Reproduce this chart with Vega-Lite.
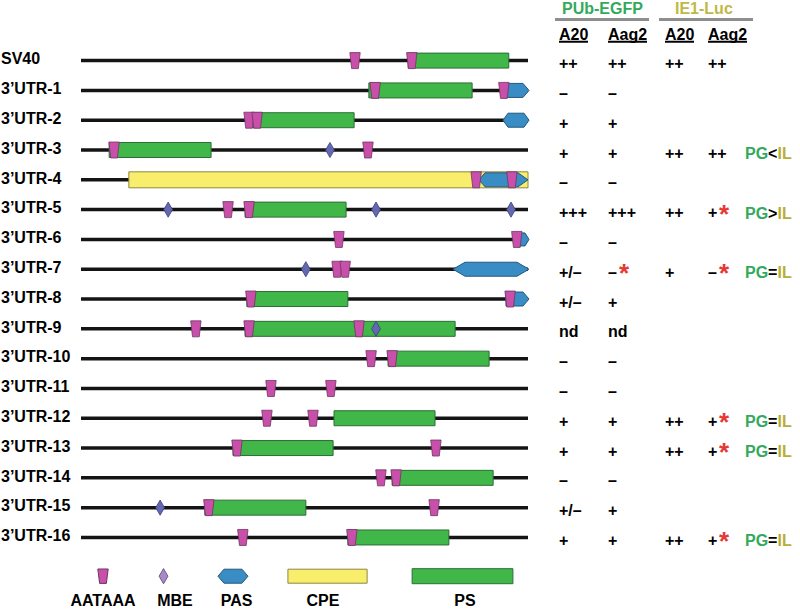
{
  "$schema": "https://vega.github.io/schema/vega-lite/v6.json",
  "width": 800,
  "height": 609,
  "autosize": {"type": "fit", "contains": "padding"},
  "padding": 0,
  "background": "white",
  "config": {"view": {"stroke": null}, "text": {"font": "Liberation Sans", "fontWeight": "bold", "fontSize": 16, "color": "#000000"}},
  "datasets": {
    "constructs": [
      {"name": "SV40", "row": 0}, {"name": "3’UTR-1", "row": 1}, {"name": "3’UTR-2", "row": 2},
      {"name": "3’UTR-3", "row": 3}, {"name": "3’UTR-4", "row": 4}, {"name": "3’UTR-5", "row": 5},
      {"name": "3’UTR-6", "row": 6}, {"name": "3’UTR-7", "row": 7}, {"name": "3’UTR-8", "row": 8},
      {"name": "3’UTR-9", "row": 9}, {"name": "3’UTR-10", "row": 10}, {"name": "3’UTR-11", "row": 11},
      {"name": "3’UTR-12", "row": 12}, {"name": "3’UTR-13", "row": 13}, {"name": "3’UTR-14", "row": 14},
      {"name": "3’UTR-15", "row": 15}, {"name": "3’UTR-16", "row": 16}
    ],
    "elements": [
      {"row": 0, "type": "PS", "start": 73.2, "end": 95.7},
      {"row": 1, "type": "PS", "start": 64.4, "end": 87.5},
      {"row": 2, "type": "PS", "start": 38.5, "end": 61.1},
      {"row": 3, "type": "PS", "start": 6.3, "end": 29.1},
      {"row": 4, "type": "CPE", "start": 10.7, "end": 100},
      {"row": 5, "type": "PS", "start": 36.7, "end": 59.3},
      {"row": 8, "type": "PS", "start": 37.1, "end": 59.7},
      {"row": 9, "type": "PS", "start": 36.7, "end": 83.7},
      {"row": 10, "type": "PS", "start": 68.7, "end": 91.3},
      {"row": 12, "type": "PS", "start": 56.6, "end": 79.2},
      {"row": 13, "type": "PS", "start": 34.0, "end": 56.4},
      {"row": 14, "type": "PS", "start": 69.6, "end": 92.2},
      {"row": 15, "type": "PS", "start": 27.7, "end": 50.3},
      {"row": 16, "type": "PS", "start": 59.7, "end": 82.3}
    ],
    "pas": [
      {"row": 1, "pos": 97.65, "form": "pentagon"},
      {"row": 2, "pos": 97.32, "form": "hexagon"},
      {"row": 4, "pos": 94.52, "form": "hexagon-wide"},
      {"row": 6, "pos": 98.66, "form": "pentagon-small"},
      {"row": 7, "pos": 91.72, "form": "hexagon-long"},
      {"row": 8, "pos": 97.65, "form": "pentagon"}
    ],
    "aataaa": [
      {"row": 0, "pos": 61.3}, {"row": 0, "pos": 74.0},
      {"row": 1, "pos": 65.8}, {"row": 1, "pos": 94.6},
      {"row": 2, "pos": 37.6}, {"row": 2, "pos": 39.4},
      {"row": 3, "pos": 7.4}, {"row": 3, "pos": 64.2},
      {"row": 4, "pos": 88.4}, {"row": 4, "pos": 96.4},
      {"row": 5, "pos": 32.9}, {"row": 5, "pos": 37.6},
      {"row": 6, "pos": 57.7}, {"row": 6, "pos": 97.5},
      {"row": 7, "pos": 57.3}, {"row": 7, "pos": 59.1},
      {"row": 8, "pos": 38.0}, {"row": 8, "pos": 96.0},
      {"row": 9, "pos": 25.7}, {"row": 9, "pos": 37.6}, {"row": 9, "pos": 62.2},
      {"row": 10, "pos": 64.9}, {"row": 10, "pos": 69.6},
      {"row": 11, "pos": 42.5}, {"row": 11, "pos": 55.9},
      {"row": 12, "pos": 41.6}, {"row": 12, "pos": 51.9},
      {"row": 13, "pos": 34.9}, {"row": 13, "pos": 79.4},
      {"row": 14, "pos": 67.1}, {"row": 14, "pos": 70.5},
      {"row": 15, "pos": 28.6}, {"row": 15, "pos": 79.0},
      {"row": 16, "pos": 36.2}, {"row": 16, "pos": 60.6}
    ],
    "mbe": [
      {"row": 3, "pos": 55.7},
      {"row": 5, "pos": 19.5}, {"row": 5, "pos": 66.0}, {"row": 5, "pos": 96.2},
      {"row": 7, "pos": 50.3},
      {"row": 9, "pos": 66.0},
      {"row": 15, "pos": 17.7}
    ],
    "legend": [
      {"feature": "AATAAA", "pos": 4.92, "labelPos": 4.92},
      {"feature": "MBE", "pos": 18.46, "labelPos": 21.03},
      {"feature": "PAS", "pos": 34.0, "labelPos": 34.8},
      {"feature": "CPE", "pos": 55.15, "labelPos": 54.14},
      {"feature": "PS", "pos": 85.35, "labelPos": 85.91}
    ],
    "reporters": [{"reporter": "PUb-EGFP"}, {"reporter": "IE1-Luc"}],
    "cells": [{"cell": "A20"}, {"cell": "Aag2"}],
    "results": [
      {"row": 0, "reporter": "PUb-EGFP", "cell": "A20", "value": "++"},
      {"row": 0, "reporter": "PUb-EGFP", "cell": "Aag2", "value": "++"},
      {"row": 0, "reporter": "IE1-Luc", "cell": "A20", "value": "++"},
      {"row": 0, "reporter": "IE1-Luc", "cell": "Aag2", "value": "++"},
      {"row": 1, "reporter": "PUb-EGFP", "cell": "A20", "value": "–"},
      {"row": 1, "reporter": "PUb-EGFP", "cell": "Aag2", "value": "–"},
      {"row": 2, "reporter": "PUb-EGFP", "cell": "A20", "value": "+"},
      {"row": 2, "reporter": "PUb-EGFP", "cell": "Aag2", "value": "+"},
      {"row": 3, "reporter": "PUb-EGFP", "cell": "A20", "value": "+"},
      {"row": 3, "reporter": "PUb-EGFP", "cell": "Aag2", "value": "+"},
      {"row": 3, "reporter": "IE1-Luc", "cell": "A20", "value": "++"},
      {"row": 3, "reporter": "IE1-Luc", "cell": "Aag2", "value": "++"},
      {"row": 4, "reporter": "PUb-EGFP", "cell": "A20", "value": "–"},
      {"row": 4, "reporter": "PUb-EGFP", "cell": "Aag2", "value": "–"},
      {"row": 5, "reporter": "PUb-EGFP", "cell": "A20", "value": "+++"},
      {"row": 5, "reporter": "PUb-EGFP", "cell": "Aag2", "value": "+++"},
      {"row": 5, "reporter": "IE1-Luc", "cell": "A20", "value": "++"},
      {"row": 5, "reporter": "IE1-Luc", "cell": "Aag2", "value": "+", "sig": "*"},
      {"row": 6, "reporter": "PUb-EGFP", "cell": "A20", "value": "–"},
      {"row": 6, "reporter": "PUb-EGFP", "cell": "Aag2", "value": "–"},
      {"row": 7, "reporter": "PUb-EGFP", "cell": "A20", "value": "+/–"},
      {"row": 7, "reporter": "PUb-EGFP", "cell": "Aag2", "value": "–", "sig": "*"},
      {"row": 7, "reporter": "IE1-Luc", "cell": "A20", "value": "+"},
      {"row": 7, "reporter": "IE1-Luc", "cell": "Aag2", "value": "–", "sig": "*"},
      {"row": 8, "reporter": "PUb-EGFP", "cell": "A20", "value": "+/–"},
      {"row": 8, "reporter": "PUb-EGFP", "cell": "Aag2", "value": "+"},
      {"row": 9, "reporter": "PUb-EGFP", "cell": "A20", "value": "nd"},
      {"row": 9, "reporter": "PUb-EGFP", "cell": "Aag2", "value": "nd"},
      {"row": 10, "reporter": "PUb-EGFP", "cell": "A20", "value": "–"},
      {"row": 10, "reporter": "PUb-EGFP", "cell": "Aag2", "value": "–"},
      {"row": 11, "reporter": "PUb-EGFP", "cell": "A20", "value": "–"},
      {"row": 11, "reporter": "PUb-EGFP", "cell": "Aag2", "value": "–"},
      {"row": 12, "reporter": "PUb-EGFP", "cell": "A20", "value": "+"},
      {"row": 12, "reporter": "PUb-EGFP", "cell": "Aag2", "value": "+"},
      {"row": 12, "reporter": "IE1-Luc", "cell": "A20", "value": "++"},
      {"row": 12, "reporter": "IE1-Luc", "cell": "Aag2", "value": "+", "sig": "*"},
      {"row": 13, "reporter": "PUb-EGFP", "cell": "A20", "value": "+"},
      {"row": 13, "reporter": "PUb-EGFP", "cell": "Aag2", "value": "+"},
      {"row": 13, "reporter": "IE1-Luc", "cell": "A20", "value": "++"},
      {"row": 13, "reporter": "IE1-Luc", "cell": "Aag2", "value": "+", "sig": "*"},
      {"row": 14, "reporter": "PUb-EGFP", "cell": "A20", "value": "–"},
      {"row": 14, "reporter": "PUb-EGFP", "cell": "Aag2", "value": "–"},
      {"row": 15, "reporter": "PUb-EGFP", "cell": "A20", "value": "+/–"},
      {"row": 15, "reporter": "PUb-EGFP", "cell": "Aag2", "value": "+"},
      {"row": 16, "reporter": "PUb-EGFP", "cell": "A20", "value": "+"},
      {"row": 16, "reporter": "PUb-EGFP", "cell": "Aag2", "value": "+"},
      {"row": 16, "reporter": "IE1-Luc", "cell": "A20", "value": "++"},
      {"row": 16, "reporter": "IE1-Luc", "cell": "Aag2", "value": "+", "sig": "*"}
    ],
    "comparisons": [
      {"row": 3, "left": "PG", "rel": "<", "right": "IL"},
      {"row": 5, "left": "PG", "rel": ">", "right": "IL"},
      {"row": 7, "left": "PG", "rel": "=", "right": "IL"},
      {"row": 12, "left": "PG", "rel": "=", "right": "IL"},
      {"row": 13, "left": "PG", "rel": "=", "right": "IL"},
      {"row": 16, "left": "PG", "rel": "=", "right": "IL"}
    ]
  },
  "resolve": {"scale": {"x": "independent", "shape": "independent", "fill": "independent", "stroke": "independent"}},
  "layer": [
    {
      "layer": [
        {
          "data": {"name": "constructs"},
          "mark": {"type": "rule", "strokeWidth": 3.5, "color": "#141414"},
          "encoding": {
            "x": {"datum": 0, "type": "quantitative", "scale": {"domain": [0, 100], "range": [81, 528], "nice": false, "zero": false}, "axis": null},
            "x2": {"datum": 100},
            "y": {"field": "row", "type": "quantitative", "scale": {"domain": [-2, 18.3], "reverse": true, "nice": false, "zero": false}, "axis": null}
          }
        },
        {
          "data": {"name": "constructs"},
          "mark": {"type": "text", "align": "left", "baseline": "middle", "dy": -1.3},
          "encoding": {
            "x": {"datum": -17.9, "type": "quantitative"},
            "y": {"field": "row", "type": "quantitative", "scale": {"domain": [-2, 18.3], "reverse": true, "nice": false, "zero": false}, "axis": null},
            "text": {"field": "name"}
          }
        },
        {
          "data": {"name": "elements"},
          "transform": [{"filter": "datum.type === 'CPE'"}],
          "mark": {"type": "rect", "fill": "#f8ee6c", "stroke": "#8e8646", "strokeWidth": 1, "yOffset": -8, "y2Offset": 8},
          "encoding": {
            "x": {"field": "start", "type": "quantitative"},
            "x2": {"field": "end"},
            "y": {"field": "row", "type": "quantitative", "scale": {"domain": [-2, 18.3], "reverse": true, "nice": false, "zero": false}, "axis": null},
            "y2": {"field": "row"}
          }
        },
        {
          "data": {"name": "elements"},
          "transform": [{"filter": "datum.type === 'PS'"}],
          "mark": {"type": "rect", "fill": "#41b649", "stroke": "#2c6e36", "strokeWidth": 1, "yOffset": -7.5, "y2Offset": 7.5},
          "encoding": {
            "x": {"field": "start", "type": "quantitative"},
            "x2": {"field": "end"},
            "y": {"field": "row", "type": "quantitative", "scale": {"domain": [-2, 18.3], "reverse": true, "nice": false, "zero": false}, "axis": null},
            "y2": {"field": "row"}
          }
        },
        {
          "data": {"name": "pas"},
          "mark": {"type": "point", "filled": true, "size": 256, "opacity": 1, "fill": "#3a8cc4", "stroke": "#24587e", "strokeWidth": 1},
          "encoding": {
            "x": {"field": "pos", "type": "quantitative"},
            "y": {"field": "row", "type": "quantitative", "scale": {"domain": [-2, 18.3], "reverse": true, "nice": false, "zero": false}, "axis": null},
            "shape": {
              "field": "form", "type": "nominal", "legend": null,
              "scale": {
                "domain": ["pentagon", "hexagon", "hexagon-wide", "pentagon-small", "hexagon-long"],
                "range": [
                  "M-1.44,-0.875L0.69,-0.875L1.44,0L0.69,0.875L-1.44,0.875Z",
                  "M-1.625,0L-1,-0.875L1,-0.875L1.625,0L1,0.875L-1,0.875Z",
                  "M-3.06,0L-2.31,-0.875L1.81,-0.875L3.06,0L1.81,0.875L-2.31,0.875Z",
                  "M-0.875,-0.8125L0.375,-0.8125L0.875,0L0.375,0.8125L-0.875,0.8125Z",
                  "M-4.75,0L-3.25,-0.875L3.25,-0.875L4.75,0L3.25,0.875L-3.25,0.875Z"
                ]
              }
            }
          }
        },
        {
          "data": {"name": "aataaa"},
          "mark": {"type": "point", "shape": "M-0.65,-1L0.65,-1L0.42,1L-0.42,1Z", "filled": true, "size": 256, "opacity": 1, "fill": "#c850aa", "stroke": "#6e3560", "strokeWidth": 0.8},
          "encoding": {
            "x": {"field": "pos", "type": "quantitative"},
            "y": {"field": "row", "type": "quantitative", "scale": {"domain": [-2, 18.3], "reverse": true, "nice": false, "zero": false}, "axis": null}
          }
        },
        {
          "data": {"name": "mbe"},
          "mark": {"type": "point", "shape": "M0,-0.95L0.55,0L0,0.95L-0.55,0Z", "filled": true, "size": 256, "opacity": 1, "fill": "#6468b0", "stroke": "#3c3f7a", "strokeWidth": 0.8},
          "encoding": {
            "x": {"field": "pos", "type": "quantitative"},
            "y": {"field": "row", "type": "quantitative", "scale": {"domain": [-2, 18.3], "reverse": true, "nice": false, "zero": false}, "axis": null}
          }
        }
      ]
    },
    {
      "data": {"name": "legend"},
      "layer": [
        {
          "mark": {"type": "point", "filled": true, "size": 256, "opacity": 1, "strokeWidth": 1},
          "encoding": {
            "x": {"field": "pos", "type": "quantitative", "scale": {"domain": [0, 100], "range": [81, 528], "nice": false, "zero": false}, "axis": null},
            "y": {"datum": 17.3, "type": "quantitative", "scale": {"domain": [-2, 18.3], "reverse": true, "nice": false, "zero": false}, "axis": null},
            "shape": {
              "field": "feature", "type": "nominal", "legend": null,
              "scale": {
                "domain": ["AATAAA", "MBE", "PAS", "CPE", "PS"],
                "range": [
                  "M-0.65,-0.9L0.65,-0.9L0.42,0.9L-0.42,0.9Z",
                  "M0,-0.95L0.55,0L0,0.95L-0.55,0Z",
                  "M-1.875,0L-1.125,-0.875L1.125,-0.875L1.875,0L1.125,0.875L-1.125,0.875Z",
                  "M-4.95,-0.875L4.95,-0.875L4.95,0.875L-4.95,0.875Z",
                  "M-6.3,-0.94L6.3,-0.94L6.3,0.94L-6.3,0.94Z"
                ]
              }
            },
            "fill": {"field": "feature", "type": "nominal", "legend": null, "scale": {"domain": ["AATAAA", "MBE", "PAS", "CPE", "PS"], "range": ["#c850aa", "#a58ac6", "#3a8cc4", "#f8ee6c", "#41b649"]}},
            "stroke": {"field": "feature", "type": "nominal", "legend": null, "scale": {"domain": ["AATAAA", "MBE", "PAS", "CPE", "PS"], "range": ["#6e3560", "#6b5a8a", "#24587e", "#8e8646", "#2c6e36"]}}
          }
        },
        {
          "mark": {"type": "text", "align": "center", "baseline": "middle"},
          "encoding": {
            "x": {"field": "labelPos", "type": "quantitative"},
            "y": {"datum": 18.125, "type": "quantitative", "scale": {"domain": [-2, 18.3], "reverse": true, "nice": false, "zero": false}, "axis": null},
            "text": {"field": "feature"}
          }
        }
      ]
    },
    {
      "layer": [
        {
          "data": {"name": "reporters"},
          "transform": [{"filter": "datum.reporter === 'PUb-EGFP'"}],
          "mark": {"type": "text", "align": "left", "baseline": "middle", "dx": 3, "color": "#33aa5b"},
          "encoding": {
            "x": {"datum": "A20", "type": "nominal", "scale": {"type": "point", "domain": ["A20", "Aag2"], "range": [559, 608], "padding": 0}, "axis": null},
            "y": {"datum": -1.742, "type": "quantitative", "scale": {"domain": [-2, 18.3], "reverse": true, "nice": false, "zero": false}, "axis": null},
            "text": {"field": "reporter"}
          }
        },
        {
          "data": {"name": "reporters"},
          "transform": [{"filter": "datum.reporter === 'PUb-EGFP'"}],
          "mark": {"type": "rule", "strokeWidth": 3, "color": "#8e8e8e", "xOffset": -4, "x2Offset": 41},
          "encoding": {
            "x": {"datum": "A20", "type": "nominal"},
            "x2": {"datum": "Aag2"},
            "y": {"datum": -1.383, "type": "quantitative", "scale": {"domain": [-2, 18.3], "reverse": true, "nice": false, "zero": false}, "axis": null}
          }
        },
        {
          "data": {"name": "cells"},
          "mark": {"type": "text", "align": "left", "baseline": "middle"},
          "encoding": {
            "x": {"field": "cell", "type": "nominal"},
            "y": {"datum": -0.875, "type": "quantitative", "scale": {"domain": [-2, 18.3], "reverse": true, "nice": false, "zero": false}, "axis": null},
            "text": {"field": "cell"}
          }
        },
        {
          "data": {"name": "cells"},
          "transform": [{"filter": "datum.cell === 'A20'"}],
          "mark": {"type": "rule", "strokeWidth": 2, "color": "#000000", "x2Offset": 29},
          "encoding": {
            "x": {"field": "cell", "type": "nominal"},
            "x2": {"field": "cell"},
            "y": {"datum": -0.633, "type": "quantitative", "scale": {"domain": [-2, 18.3], "reverse": true, "nice": false, "zero": false}, "axis": null}
          }
        },
        {
          "data": {"name": "cells"},
          "transform": [{"filter": "datum.cell === 'Aag2'"}],
          "mark": {"type": "rule", "strokeWidth": 2, "color": "#000000", "x2Offset": 39},
          "encoding": {
            "x": {"field": "cell", "type": "nominal"},
            "x2": {"field": "cell"},
            "y": {"datum": -0.633, "type": "quantitative", "scale": {"domain": [-2, 18.3], "reverse": true, "nice": false, "zero": false}, "axis": null}
          }
        },
        {
          "data": {"name": "results"},
          "transform": [{"filter": "datum.reporter === 'PUb-EGFP'"}],
          "mark": {"type": "text", "align": "left", "baseline": "middle", "dy": 3.5},
          "encoding": {
            "x": {"field": "cell", "type": "nominal"},
            "y": {"field": "row", "type": "quantitative", "scale": {"domain": [-2, 18.3], "reverse": true, "nice": false, "zero": false}, "axis": null},
            "text": {"field": "value"}
          }
        },
        {
          "data": {"name": "results"},
          "transform": [{"filter": "datum.reporter === 'PUb-EGFP' && datum.sig"}],
          "mark": {"type": "text", "align": "left", "baseline": "middle", "dx": 11, "dy": 5, "fontSize": 26, "color": "#e53935"},
          "encoding": {
            "x": {"field": "cell", "type": "nominal"},
            "y": {"field": "row", "type": "quantitative", "scale": {"domain": [-2, 18.3], "reverse": true, "nice": false, "zero": false}, "axis": null},
            "text": {"field": "sig"}
          }
        }
      ]
    },
    {
      "layer": [
        {
          "data": {"name": "reporters"},
          "transform": [{"filter": "datum.reporter === 'IE1-Luc'"}],
          "mark": {"type": "text", "align": "left", "baseline": "middle", "dx": 10, "color": "#bfb846"},
          "encoding": {
            "x": {"datum": "A20", "type": "nominal", "scale": {"type": "point", "domain": ["A20", "Aag2"], "range": [665, 708], "padding": 0}, "axis": null},
            "y": {"datum": -1.742, "type": "quantitative", "scale": {"domain": [-2, 18.3], "reverse": true, "nice": false, "zero": false}, "axis": null},
            "text": {"field": "reporter"}
          }
        },
        {
          "data": {"name": "reporters"},
          "transform": [{"filter": "datum.reporter === 'IE1-Luc'"}],
          "mark": {"type": "rule", "strokeWidth": 3, "color": "#8e8e8e", "xOffset": -6, "x2Offset": 45},
          "encoding": {
            "x": {"datum": "A20", "type": "nominal"},
            "x2": {"datum": "Aag2"},
            "y": {"datum": -1.383, "type": "quantitative", "scale": {"domain": [-2, 18.3], "reverse": true, "nice": false, "zero": false}, "axis": null}
          }
        },
        {
          "data": {"name": "cells"},
          "mark": {"type": "text", "align": "left", "baseline": "middle"},
          "encoding": {
            "x": {"field": "cell", "type": "nominal"},
            "y": {"datum": -0.875, "type": "quantitative", "scale": {"domain": [-2, 18.3], "reverse": true, "nice": false, "zero": false}, "axis": null},
            "text": {"field": "cell"}
          }
        },
        {
          "data": {"name": "cells"},
          "transform": [{"filter": "datum.cell === 'A20'"}],
          "mark": {"type": "rule", "strokeWidth": 2, "color": "#000000", "x2Offset": 29},
          "encoding": {
            "x": {"field": "cell", "type": "nominal"},
            "x2": {"field": "cell"},
            "y": {"datum": -0.633, "type": "quantitative", "scale": {"domain": [-2, 18.3], "reverse": true, "nice": false, "zero": false}, "axis": null}
          }
        },
        {
          "data": {"name": "cells"},
          "transform": [{"filter": "datum.cell === 'Aag2'"}],
          "mark": {"type": "rule", "strokeWidth": 2, "color": "#000000", "x2Offset": 39},
          "encoding": {
            "x": {"field": "cell", "type": "nominal"},
            "x2": {"field": "cell"},
            "y": {"datum": -0.633, "type": "quantitative", "scale": {"domain": [-2, 18.3], "reverse": true, "nice": false, "zero": false}, "axis": null}
          }
        },
        {
          "data": {"name": "results"},
          "transform": [{"filter": "datum.reporter === 'IE1-Luc'"}],
          "mark": {"type": "text", "align": "left", "baseline": "middle", "dy": 3.5},
          "encoding": {
            "x": {"field": "cell", "type": "nominal"},
            "y": {"field": "row", "type": "quantitative", "scale": {"domain": [-2, 18.3], "reverse": true, "nice": false, "zero": false}, "axis": null},
            "text": {"field": "value"}
          }
        },
        {
          "data": {"name": "results"},
          "transform": [{"filter": "datum.reporter === 'IE1-Luc' && datum.sig"}],
          "mark": {"type": "text", "align": "left", "baseline": "middle", "dx": 11, "dy": 5, "fontSize": 26, "color": "#e53935"},
          "encoding": {
            "x": {"field": "cell", "type": "nominal"},
            "y": {"field": "row", "type": "quantitative", "scale": {"domain": [-2, 18.3], "reverse": true, "nice": false, "zero": false}, "axis": null},
            "text": {"field": "sig"}
          }
        }
      ]
    },
    {
      "data": {"name": "comparisons"},
      "layer": [
        {
          "mark": {"type": "text", "align": "left", "baseline": "middle", "dy": 4, "color": "#33aa5b"},
          "encoding": {
            "x": {"datum": "PG vs IL", "type": "nominal", "scale": {"type": "point", "domain": ["PG vs IL"], "range": [745, 745], "padding": 0}, "axis": null},
            "y": {"field": "row", "type": "quantitative", "scale": {"domain": [-2, 18.3], "reverse": true, "nice": false, "zero": false}, "axis": null},
            "text": {"field": "left"}
          }
        },
        {
          "mark": {"type": "text", "align": "left", "baseline": "middle", "dy": 4, "dx": 23.1, "color": "#000000"},
          "encoding": {
            "x": {"datum": "PG vs IL", "type": "nominal"},
            "y": {"field": "row", "type": "quantitative", "scale": {"domain": [-2, 18.3], "reverse": true, "nice": false, "zero": false}, "axis": null},
            "text": {"field": "rel"}
          }
        },
        {
          "mark": {"type": "text", "align": "left", "baseline": "middle", "dy": 4, "dx": 32.5, "color": "#b9ad35"},
          "encoding": {
            "x": {"datum": "PG vs IL", "type": "nominal"},
            "y": {"field": "row", "type": "quantitative", "scale": {"domain": [-2, 18.3], "reverse": true, "nice": false, "zero": false}, "axis": null},
            "text": {"field": "right"}
          }
        }
      ]
    }
  ]
}
